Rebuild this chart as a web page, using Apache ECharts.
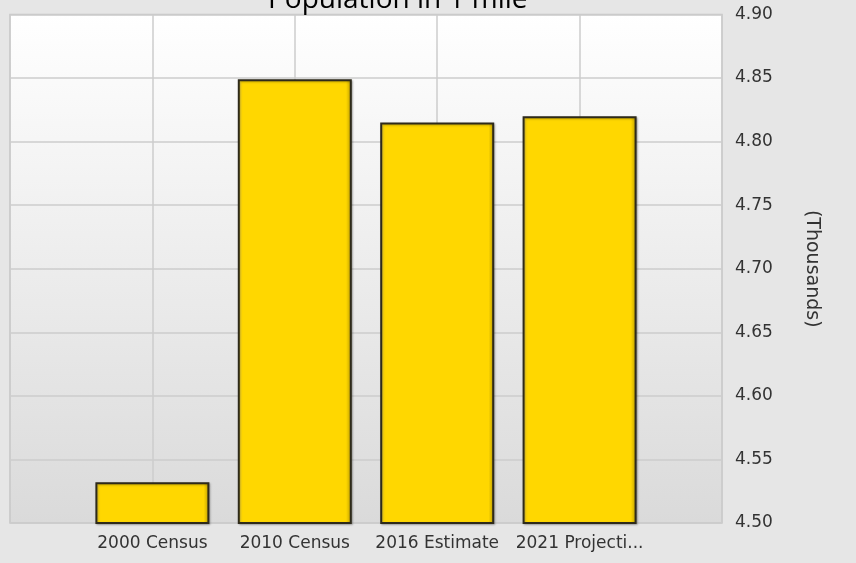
<!DOCTYPE html>
<html>
<head>
<meta charset="utf-8">
<script src="https://cdn.jsdelivr.net/npm/echarts@6/dist/echarts.min.js"></script>
<style>
html,body{margin:0;padding:0;background:#e6e6e6;}
#chart{width:856px;height:563px;}
</style>
</head>
<body>
<div id="chart"></div>
<script>
const titleText = 'Population in 1 mile';
const categories = ['2000 Census', '2010 Census', '2016 Estimate', '2021 Projecti...'];
const populationThousands = [4.532, 4.849, 4.815, 4.820];
const yAxisName = '(Thousands)';
const yMin = 4.50, yMax = 4.90, yStep = 0.05;

const axisCats = [''].concat(categories, ['']);
const seriesData = [null].concat(populationThousands, [null]);

const chart = echarts.init(document.getElementById('chart'));
chart.setOption({
  backgroundColor: '#e6e6e6',
  animation: false,
  title: {
    text: titleText,
    left: 268,
    top: -14,
    padding: 0,
    textStyle: { fontFamily: 'Open Sans', fontSize: 28, fontWeight: 'normal', color: '#000' }
  },
  grid: {
    left: 10, right: 134, top: 14.5, bottom: 40,
    show: true,
    borderColor: '#c8c8c8',
    borderWidth: 1.5,
    backgroundColor: {
      type: 'linear', x: 0, y: 0, x2: 0, y2: 1,
      colorStops: [{ offset: 0, color: '#ffffff' }, { offset: 1, color: '#dadada' }]
    }
  },
  xAxis: {
    type: 'category',
    data: axisCats,
    boundaryGap: false,
    axisLine: { show: false },
    axisTick: { show: false },
    axisLabel: { interval: 0, margin: 12, fontFamily: 'DejaVu Sans', fontSize: 17, color: '#333' },
    splitLine: { show: true, lineStyle: { color: '#cccccc', width: 1.5 } }
  },
  yAxis: {
    type: 'value',
    position: 'right',
    min: yMin, max: yMax, interval: yStep,
    name: yAxisName,
    nameLocation: 'middle',
    nameRotate: -90,
    nameGap: 80,
    nameTextStyle: { fontFamily: 'DejaVu Sans', fontSize: 19, color: '#333' },
    axisLine: { show: false },
    axisTick: { show: false },
    axisLabel: { margin: 13, fontFamily: 'DejaVu Sans', fontSize: 17, color: '#333',
      formatter: v => v.toFixed(2) },
    splitLine: { show: true, lineStyle: { color: '#cccccc', width: 1.5 } }
  },
  series: [{
    type: 'bar',
    data: seriesData,
    barWidth: 114,
    itemStyle: {
      color: {
        type: 'linear', x: 0, y: 0, x2: 1, y2: 0,
        colorStops: [
          { offset: 0, color: '#ffe24a' },
          { offset: 0.04, color: '#ffd700' },
          { offset: 0.95, color: '#ffd700' },
          { offset: 1, color: '#b89a00' }
        ]
      },
      borderColor: '#2e2a1a',
      borderWidth: 2,
      shadowColor: 'rgba(0,0,0,0.25)',
      shadowBlur: 2,
      shadowOffsetX: 1,
      shadowOffsetY: 1
    }
  }]
});
</script>
</body>
</html>
